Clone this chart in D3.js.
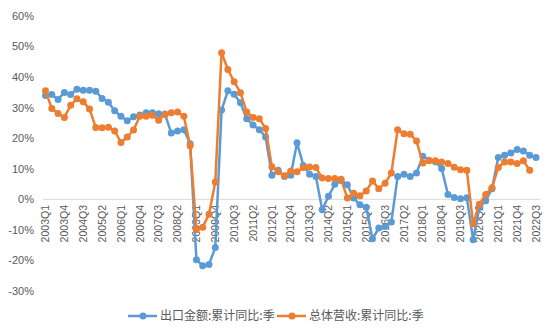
<!DOCTYPE html>
<html>
<head>
<meta charset="utf-8">
<script src="https://cdn.jsdelivr.net/npm/d3@7"></script>
<style>
  body { margin: 0; background: #fff; }
  svg { display: block; }
  text { font-family: "Liberation Sans", Arial, "Noto Sans CJK SC", sans-serif; }
</style>
</head>
<body>
<svg id="chart" width="554" height="336"></svg>
<script>
// Categories: quarters 2003Q1 .. 2022Q3
const years = d3.range(2003, 2023);
const quarters = [];
years.forEach(y => [1, 2, 3, 4].forEach(q => { if (!(y === 2022 && q > 3)) quarters.push(y + "Q" + q); }));

const tickLabels = ["2003Q1","2003Q4","2004Q3","2005Q2","2006Q1","2006Q4","2007Q3","2008Q2","2009Q1","2009Q4",
  "2010Q3","2011Q2","2012Q1","2012Q4","2013Q3","2014Q2","2015Q1","2015Q4","2016Q3","2017Q2","2018Q1",
  "2018Q4","2019Q3","2020Q2","2021Q1","2021Q4","2022Q3"];

const yTicks = [-30, -20, -10, 0, 10, 20, 30, 40, 50, 60];

const seriesNames = ["出口金额:累计同比:季", "总体营收:累计同比:季"];

const exportGrowth = [34.0,34.3,32.7,35.0,34.3,36.0,35.7,35.7,35.4,33.0,
  31.8,29.0,27.2,25.7,27.0,27.6,28.3,28.3,28.0,27.9,
  21.7,22.4,22.8,18.2,-19.8,-21.7,-21.3,-15.8,29.2,35.5,
  34.4,31.6,26.4,24.3,22.8,20.4,7.9,9.5,7.5,7.9,
  18.5,11.1,8.2,7.5,-3.4,1.0,4.9,6.2,4.8,0.4,
  -1.8,-2.6,-12.9,-9.4,-8.9,-7.4,7.5,8.2,7.5,8.6,
  14.1,12.8,12.3,10.1,1.6,0.6,0.2,0.5,-13.2,-2.7,
  -0.5,3.5,13.7,14.4,15.2,16.3,15.8,14.4,13.7];

const revenueGrowth = [35.5,29.7,28.1,26.8,30.8,32.9,31.9,29.6,23.5,23.4,
  23.6,22.4,18.6,20.4,22.7,27.2,27.2,27.5,25.9,27.8,
  28.3,28.6,27.2,17.5,-9.9,-9.1,-4.9,5.7,48.0,42.5,
  38.5,34.9,28.6,26.8,26.4,23.2,10.7,9.0,7.7,9.3,
  9.0,10.4,10.6,10.4,7.0,6.8,6.8,6.6,0.4,2.0,
  1.2,2.7,6.0,3.5,5.3,8.6,22.8,21.5,21.3,19.1,
  11.9,12.6,12.6,12.2,11.7,10.5,9.7,9.5,-8.0,-1.6,
  1.6,3.8,10.4,12.2,12.2,11.7,12.6,9.5,null];

const colors = ["#5B9BD5", "#ED7D31"];

const svg = d3.select("#chart");
const x = d3.scalePoint().domain(quarters).range([45.5, 536]);
const y = d3.scaleLinear().domain([-30, 60]).range([291, 16]);

// zero line
svg.append("line")
  .attr("x1", 43).attr("x2", 540)
  .attr("y1", y(0)).attr("y2", y(0))
  .attr("stroke", "#D9D9D9").attr("stroke-width", 1);

// y axis labels
svg.append("g").selectAll("text").data(yTicks).join("text")
  .attr("x", 34).attr("y", d => y(d)).attr("dy", "0.35em")
  .attr("text-anchor", "end").attr("font-size", 11).attr("fill", "#595959")
  .text(d => d + "%");

// x axis labels (rotated)
svg.append("g").selectAll("text").data(tickLabels).join("text")
  .attr("transform", d => `translate(${x(d)},205) rotate(-90)`)
  .attr("dy", "0.35em")
  .attr("text-anchor", "end").attr("font-size", 10.5).attr("fill", "#595959")
  .text(d => d);

const series = [exportGrowth, revenueGrowth];
const line = d3.line()
  .defined(d => d.v !== null)
  .x(d => x(d.q)).y(d => y(d.v));

series.forEach((vals, si) => {
  const pts = quarters.map((q, i) => ({ q, v: vals[i] })).filter(d => d.v !== null);
  const g = svg.append("g");
  g.append("path").datum(pts)
    .attr("fill", "none").attr("stroke", colors[si])
    .attr("stroke-width", 2.5).attr("stroke-linejoin", "round")
    .attr("d", line);
  g.selectAll("circle").data(pts).join("circle")
    .attr("cx", d => x(d.q)).attr("cy", d => y(d.v))
    .attr("r", 3.5).attr("fill", colors[si]);
});

// legend
const legendItems = [
  { x0: 128, name: seriesNames[0], color: colors[0] },
  { x0: 277, name: seriesNames[1], color: colors[1] }
];
const lg = svg.append("g");
legendItems.forEach(it => {
  lg.append("line").attr("x1", it.x0).attr("x2", it.x0 + 29)
    .attr("y1", 316).attr("y2", 316)
    .attr("stroke", it.color).attr("stroke-width", 2.5);
  lg.append("circle").attr("cx", it.x0 + 15).attr("cy", 316).attr("r", 3.5).attr("fill", it.color);
  lg.append("text").attr("x", it.x0 + 32).attr("y", 316).attr("dy", "0.35em")
    .attr("font-size", 12).attr("fill", "#595959")
    .style("font-family", "'Noto Sans CJK SC', sans-serif")
    .text(it.name);
});
</script>
</body>
</html>
